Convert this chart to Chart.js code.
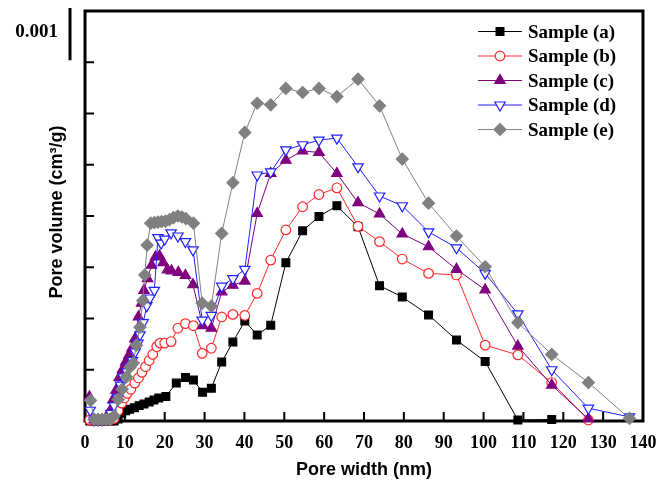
<!DOCTYPE html>
<html>
<head>
<meta charset="utf-8">
<script src="https://cdn.jsdelivr.net/npm/chart.js@4.4.1/dist/chart.umd.min.js"></script>
<style>
  html, body { margin: 0; padding: 0; background: #fff; }
  #wrap { width: 671px; height: 484px; }
</style>
</head>
<body>
<div id="wrap"><canvas id="poreChart" width="671" height="484"></canvas></div>
<script>
// Pore size distribution, widths in nm, volumes in 10^-3 cm3/g
const widthA = [1.2, 2.3, 3.3, 4.3, 5.3, 6.3, 7.3, 8.3, 9.2, 10.2, 11.2, 12.4, 13.6, 14.8, 16.1, 17.3, 18.5, 20.3, 22.9, 25.2, 27.2, 29.5, 31.7, 34.3, 37.1, 40.1, 43.2, 46.6, 50.4, 54.6, 58.7, 63.2, 68.5, 73.9, 79.6, 86.2, 93.2, 100.4, 108.6, 117.1];
const volA   = [0, 0, 0, 0, 0, 0, 0, 0.04, 0.15, 0.20, 0.23, 0.26, 0.30, 0.33, 0.37, 0.41, 0.45, 0.48, 0.74, 0.85, 0.80, 0.56, 0.64, 1.15, 1.54, 1.95, 1.68, 1.87, 3.09, 3.71, 3.99, 4.20, 3.79, 2.64, 2.42, 2.07, 1.58, 1.16, 0.02, 0.03];

const widthB = [1.2, 2.3, 3.3, 4.3, 5.3, 6.3, 7.3, 8.3, 9.2, 9.9, 10.6, 11.5, 12.5, 13.4, 14.3, 15.2, 16.1, 17.0, 18.0, 18.8, 20.0, 21.6, 23.3, 25.2, 27.2, 29.4, 31.7, 34.3, 37.1, 40.1, 43.2, 46.6, 50.4, 54.6, 58.7, 63.2, 68.5, 73.9, 79.6, 86.2, 93.2, 100.4, 108.6, 117.1, 126.3];
const volB   = [0.02, 0.02, 0.02, 0.02, 0.02, 0.02, 0.05, 0.20, 0.35, 0.45, 0.54, 0.62, 0.74, 0.84, 0.95, 1.06, 1.18, 1.30, 1.45, 1.52, 1.52, 1.55, 1.81, 1.90, 1.86, 1.32, 1.42, 2.03, 2.08, 2.06, 2.49, 3.14, 3.73, 4.18, 4.42, 4.55, 3.80, 3.50, 3.16, 2.88, 2.85, 1.48, 1.29, 0.75, 0.02];

const widthC = [1.1, 2.3, 3.3, 4.3, 5.3, 6.3, 7.0, 7.8, 8.6, 9.4, 10.2, 11.0, 11.8, 12.5, 13.4, 14.2, 14.8, 15.7, 16.7, 17.7, 18.7, 19.6, 20.7, 21.7, 23.4, 25.2, 27.1, 29.5, 31.7, 34.3, 37.1, 40.1, 43.2, 46.6, 50.4, 54.6, 58.7, 63.2, 68.5, 73.9, 79.6, 86.2, 93.2, 100.4, 108.6, 117.1, 126.3];
const volC   = [0.47, 0.02, 0.02, 0.02, 0.03, 0.20, 0.41, 0.60, 0.85, 1.00, 1.15, 1.28, 1.42, 1.60, 2.03, 2.30, 2.55, 2.78, 3.04, 3.20, 3.22, 3.09, 2.95, 2.93, 2.90, 2.84, 2.66, 1.86, 1.81, 2.52, 2.65, 2.73, 4.05, 4.83, 5.09, 5.27, 5.24, 4.83, 4.26, 4.04, 3.65, 3.40, 2.96, 2.56, 1.46, 0.70, 0.04];

const widthD = [1.3, 2.3, 3.3, 4.3, 5.3, 6.5, 7.3, 8.2, 8.9, 9.6, 10.5, 11.2, 11.9, 12.6, 13.3, 13.8, 14.6, 15.5, 16.3, 17.4, 18.3, 19.1, 20.0, 21.6, 23.3, 25.2, 27.1, 29.4, 31.7, 34.3, 37.1, 40.1, 43.2, 46.6, 50.4, 54.6, 58.7, 63.2, 68.5, 73.9, 79.6, 86.2, 93.2, 100.4, 108.6, 117.1, 126.3, 136.6];
const volD   = [0.21, 0.02, 0.02, 0.02, 0.03, 0.15, 0.30, 0.45, 0.70, 0.86, 0.96, 1.06, 1.18, 1.35, 1.52, 1.68, 1.92, 2.25, 2.40, 2.55, 3.58, 3.47, 3.55, 3.67, 3.61, 3.50, 3.34, 1.97, 2.06, 2.63, 2.78, 2.96, 4.80, 4.86, 5.29, 5.39, 5.48, 5.52, 4.96, 4.39, 4.20, 3.69, 3.38, 2.88, 2.09, 1.00, 0.25, 0.08];

const widthE = [1.4, 2.3, 3.3, 4.3, 5.3, 6.3, 7.3, 8.3, 9.3, 10.4, 11.3, 12.1, 12.9, 13.8, 14.5, 15.0, 15.6, 16.5, 17.4, 18.3, 19.2, 20.2, 21.2, 22.2, 23.3, 24.3, 25.3, 27.2, 29.4, 31.7, 34.3, 37.1, 40.1, 43.2, 46.6, 50.4, 54.6, 58.7, 63.2, 68.5, 73.9, 79.6, 86.2, 93.2, 100.4, 108.6, 117.1, 126.3, 136.6];
const volE   = [0.40, 0.03, 0.03, 0.03, 0.03, 0.03, 0.10, 0.42, 0.62, 0.86, 1.05, 1.13, 1.48, 1.83, 2.35, 2.85, 3.43, 3.86, 3.87, 3.88, 3.89, 3.90, 3.93, 3.97, 4.00, 3.98, 3.95, 3.86, 2.30, 2.24, 3.66, 4.65, 5.63, 6.20, 6.17, 6.49, 6.41, 6.49, 6.33, 6.67, 6.15, 5.11, 4.25, 3.61, 3.01, 1.92, 1.30, 0.75, 0.05];

const sampleNames = ['Sample (a)', 'Sample (b)', 'Sample (c)', 'Sample (d)', 'Sample (e)'];
const xTicks = { min: 0, max: 140, step: 10 };
const yTicks = { min: 0, max: 8, step: 1 };
const scaleBarText = '0.001';

const pairs = (xs, ys) => xs.map((x, i) => ({ x: x, y: ys[i] }));

const series = [
  { data: pairs(widthA, volA), color: '#000000', style: 'rect', radius: 5.5, fill: '#000000' },
  { data: pairs(widthB, volB), color: '#ff2a2a', style: 'circle', radius: 4.8, fill: '#ffffff' },
  { data: pairs(widthC, volC), color: '#800080', style: 'triangle', radius: 6, fill: '#800080' },
  { data: pairs(widthD, volD), color: '#2020ff', style: 'triangle', radius: 6, fill: '#ffffff', rotation: 180 },
  { data: pairs(widthE, volE), color: '#808080', style: 'rectRot', radius: 6, fill: '#808080' }
];

const datasets = series.map((s, i) => ({
  label: sampleNames[i],
  data: s.data,
  showLine: true,
  borderColor: s.color,
  borderWidth: 1,
  pointStyle: s.style,
  pointRadius: s.radius,
  pointRotation: s.rotation || 0,
  pointBackgroundColor: s.fill,
  pointBorderColor: s.color,
  pointBorderWidth: 1.2,
  clip: false,
  order: 5 - i
}));

// frame, inward ticks, axis titles, scale bar and the line+marker legend
const decorations = {
  id: 'decorations',
  beforeDatasetsDraw(chart) {
    const { ctx, chartArea: a, scales: { x, y } } = chart;
    ctx.save();
    ctx.strokeStyle = '#000';
    ctx.lineWidth = 2;
    ctx.beginPath();
    x.ticks.forEach(t => {
      const px = x.getPixelForValue(t.value);
      ctx.moveTo(px, a.bottom);
      ctx.lineTo(px, a.bottom - 9);
    });
    y.ticks.forEach(t => {
      const py = y.getPixelForValue(t.value);
      ctx.moveTo(a.left, py);
      ctx.lineTo(a.left + 9, py);
    });
    ctx.stroke();
    ctx.lineWidth = 3;
    ctx.strokeRect(a.left, a.top, a.right - a.left, a.bottom - a.top);
    ctx.restore();
  },
  afterDraw(chart) {
    const { ctx, chartArea: a, scales: { y } } = chart;
    ctx.save();
    ctx.fillStyle = '#000';

    // axis titles
    ctx.font = 'bold 18px "Liberation Sans", Arial, sans-serif';
    ctx.textAlign = 'center';
    ctx.textBaseline = 'middle';
    ctx.fillText('Pore width (nm)', (a.left + a.right) / 2, 470);
    ctx.save();
    ctx.translate(57, (a.top + a.bottom) / 2 - 4);
    ctx.rotate(-Math.PI / 2);
    ctx.fillText('Pore volume (cm\u00b3/g)', 0, 0);
    ctx.restore();

    // scale bar: one tick interval
    ctx.strokeStyle = '#000';
    ctx.lineWidth = 3;
    ctx.beginPath();
    ctx.moveTo(70, y.getPixelForValue(yTicks.max) - 3);
    ctx.lineTo(70, y.getPixelForValue(yTicks.max - yTicks.step) - 2);
    ctx.stroke();
    ctx.font = 'bold 19px "Liberation Serif", "Times New Roman", serif';
    ctx.textAlign = 'right';
    ctx.textBaseline = 'alphabetic';
    ctx.fillText(scaleBarText, 58, 37);

    // legend
    const lx0 = 478, lx1 = 522, tx = 528;
    chart.data.datasets.forEach((ds, i) => {
      const ly = 31.5 + i * 24.5;
      ctx.strokeStyle = ds.borderColor;
      ctx.lineWidth = 1;
      ctx.beginPath();
      ctx.moveTo(lx0, ly);
      ctx.lineTo(lx1, ly);
      ctx.stroke();
      ctx.fillStyle = ds.pointBackgroundColor;
      ctx.strokeStyle = ds.pointBorderColor;
      ctx.lineWidth = ds.pointBorderWidth;
      Chart.helpers.drawPoint(ctx, {
        pointStyle: ds.pointStyle,
        radius: ds.pointRadius,
        rotation: ds.pointRotation,
        borderWidth: ds.pointBorderWidth
      }, (lx0 + lx1) / 2, ly);
      ctx.fillStyle = '#000';
      ctx.font = 'bold 19px "Liberation Serif", "Times New Roman", serif';
      ctx.textAlign = 'left';
      ctx.fillText(ds.label, tx, ly + 6);
    });
    ctx.restore();
  }
};

new Chart(document.getElementById('poreChart').getContext('2d'), {
  type: 'scatter',
  data: { datasets: datasets },
  options: {
    responsive: false,
    animation: false,
    layout: { padding: { top: 11, right: 28, left: 0, bottom: 0 } },
    plugins: {
      legend: { display: false },
      tooltip: { enabled: false }
    },
    scales: {
      x: {
        type: 'linear',
        min: xTicks.min,
        max: xTicks.max,
        grid: { display: false },
        border: { display: false },
        ticks: {
          stepSize: xTicks.step,
          autoSkip: false,
          maxRotation: 0,
          padding: 4,
          color: '#000',
          font: { family: '"Liberation Serif", "Times New Roman", serif', size: 18, weight: 'bold' }
        },
        afterFit: s => { s.height = 63; }
      },
      y: {
        type: 'linear',
        min: yTicks.min,
        max: yTicks.max,
        grid: { display: false },
        border: { display: false },
        ticks: { stepSize: yTicks.step, display: false },
        afterFit: s => { s.width = 85; }
      }
    }
  },
  plugins: [decorations]
});
</script>
</body>
</html>
